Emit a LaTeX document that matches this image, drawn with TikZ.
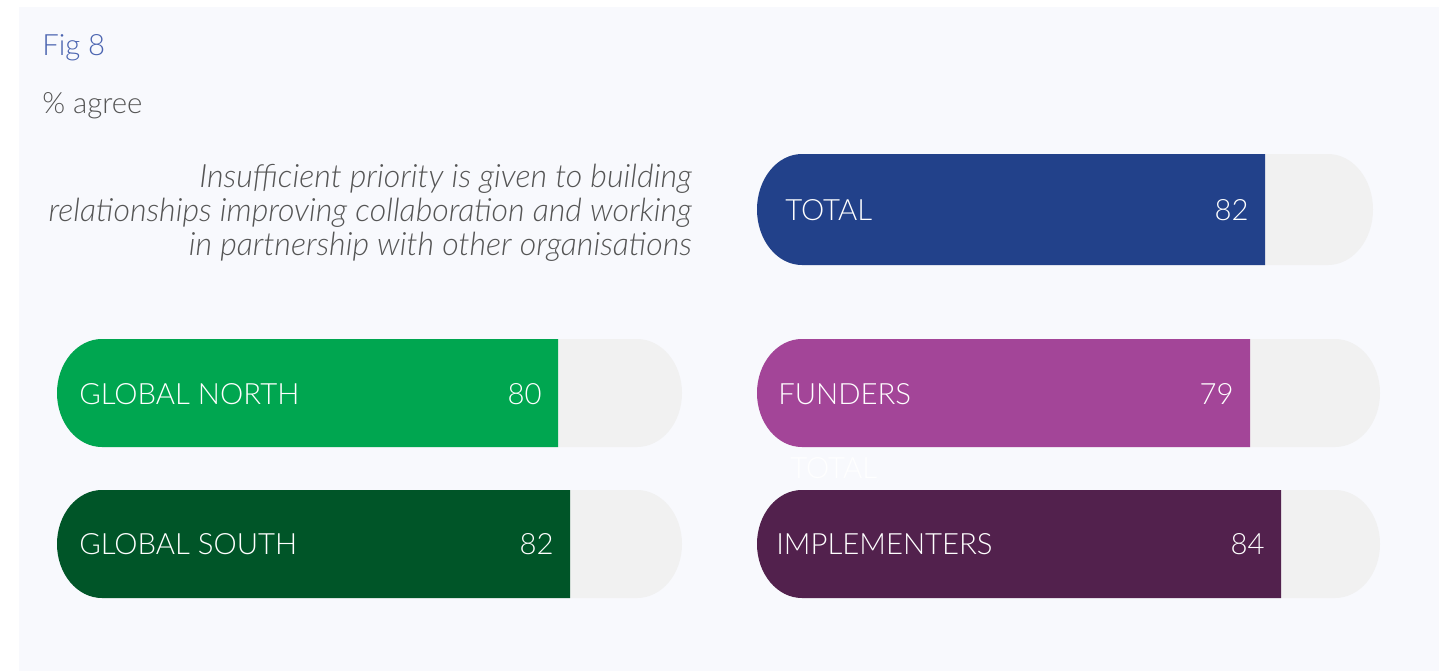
\documentclass[tikz,border=0pt]{standalone}
\usepackage{fontspec}
\setmainfont{Lato}
\newfontfamily\latolight{Lato Light}
\usetikzlibrary{positioning}
\definecolor{panelbg}{HTML}{F8F9FD}
\definecolor{trackgray}{HTML}{F1F1F1}
\definecolor{figblue}{HTML}{4B64B0}
\definecolor{textgray}{HTML}{555555}
\definecolor{totalblue}{HTML}{22418A}
\definecolor{northgreen}{HTML}{00A650}
\definecolor{southgreen}{HTML}{005528}
\definecolor{fundpurple}{HTML}{A34598}
\definecolor{implpurple}{HTML}{52214D}
\tikzset{
%Define style for the grey bar tracks
    track/.style={
           fill=trackgray,
           draw=none},
%Define style for the coloured bars
    barfill/.style={
           fill=#1,
           draw=none},
%Define style for texts inside the bars
    barlabel/.style={
           anchor=west,
           inner sep=0pt,
           text=white,
           font=\latolight\fontsize{22}{22}\selectfont},
    barvalue/.style={
           anchor=east,
           inner sep=0pt,
           text=white,
           font=\latolight\fontsize{22}{22}\selectfont},
% Define style for the heading texts
    heading/.style={
           anchor=base west,
           inner sep=0pt,
           font=\latolight\fontsize{22}{22}\selectfont}
}
\begin{document}
\begin{tikzpicture}[x=0.75pt,y=-0.75pt]
 \useasboundingbox (0,0) rectangle (1456,671);
 \fill[white] (0,0) rectangle (1456,671);
 \fill[panelbg] (19,7) rectangle (1439,671);
 \node[heading, text=figblue] (fig) at (42,55) {Fig 8};
 \node[heading, text=textgray] (agree) at (42,113) {\% agree};
 \node[anchor=north east, inner sep=0pt, align=right, text=textgray,
   font=\latolight\fontsize{24.1}{25.5}\selectfont\itshape] (question) at (692,164)
   {Insufficient priority is given to building\\
    relationships improving collaboration and working\\
    in partnership with other organisations};
% TOTAL
 \path[track] (802,154) arc[start angle=270, end angle=90, x radius=45, y radius=55.5]
   -- (1328,265) arc[start angle=90, end angle=-90, x radius=45, y radius=55.5] -- cycle;
 \path[barfill=totalblue] (802,154) arc[start angle=270, end angle=90, x radius=45, y radius=55.5]
   -- (1265,265) -- (1265,154) -- cycle;
 \node[barlabel] (total) at (785,210) {TOTAL};
 \node[barvalue] (totalval) at (1249,210) {82};
% GLOBAL NORTH
 \path[track] (102,339) arc[start angle=270, end angle=90, x radius=45, y radius=54]
   -- (637,447) arc[start angle=90, end angle=-90, x radius=45, y radius=54] -- cycle;
 \path[barfill=northgreen] (102,339) arc[start angle=270, end angle=90, x radius=45, y radius=54]
   -- (558,447) -- (558,339) -- cycle;
 \node[barlabel] (north) at (79,394) {GLOBAL NORTH};
 \node[barvalue] (northval) at (542,394) {80};
% GLOBAL SOUTH
 \path[track] (102,490) arc[start angle=270, end angle=90, x radius=45, y radius=54]
   -- (637,598) arc[start angle=90, end angle=-90, x radius=45, y radius=54] -- cycle;
 \path[barfill=southgreen] (102,490) arc[start angle=270, end angle=90, x radius=45, y radius=54]
   -- (570,598) -- (570,490) -- cycle;
 \node[barlabel] (south) at (79,544) {GLOBAL SOUTH};
 \node[barvalue] (southval) at (554,544) {82};
% FUNDERS
 \path[track] (802,339) arc[start angle=270, end angle=90, x radius=45, y radius=54]
   -- (1335,447) arc[start angle=90, end angle=-90, x radius=45, y radius=54] -- cycle;
 \path[barfill=fundpurple] (802,339) arc[start angle=270, end angle=90, x radius=45, y radius=54]
   -- (1250,447) -- (1250,339) -- cycle;
 \node[barlabel] (funders) at (778,394) {FUNDERS};
 \node[barvalue] (fundersval) at (1234,394) {79};
 \node[barlabel] (ghost) at (790,468) {TOTAL};
% IMPLEMENTERS
 \path[track] (802,490) arc[start angle=270, end angle=90, x radius=45, y radius=54]
   -- (1335,598) arc[start angle=90, end angle=-90, x radius=45, y radius=54] -- cycle;
 \path[barfill=implpurple] (802,490) arc[start angle=270, end angle=90, x radius=45, y radius=54]
   -- (1281,598) -- (1281,490) -- cycle;
 \node[barlabel] (impl) at (776,544) {IMPLEMENTERS};
 \node[barvalue] (implval) at (1265,544) {84};
\end{tikzpicture}
\end{document}
